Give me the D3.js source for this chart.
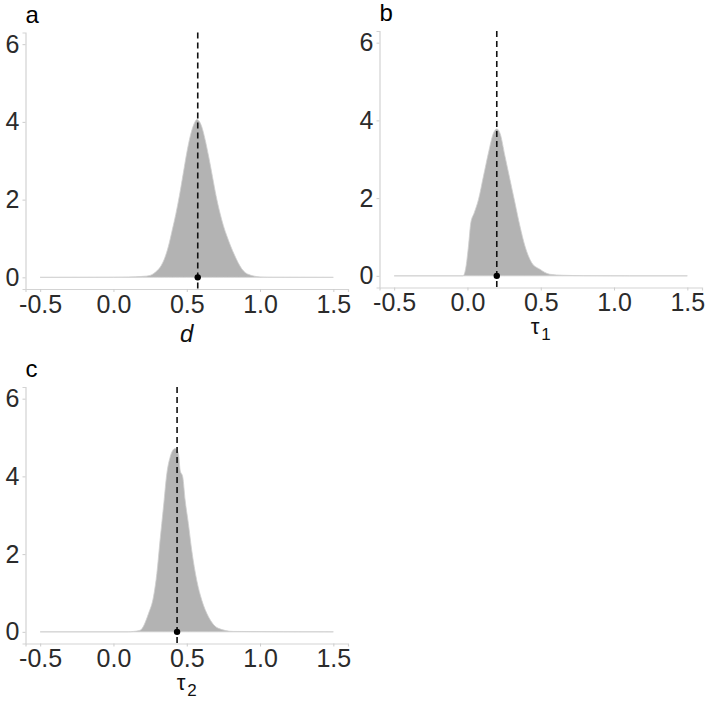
<!DOCTYPE html>
<html>
<head>
<meta charset="utf-8">
<script src="https://cdn.jsdelivr.net/npm/d3@7"></script>
<style>
	body { margin: 0; background: #fff; }
	text { font-family: "Liberation Sans", Arial, sans-serif; }
</style>
</head>
<body>
<svg id="chart" width="709" height="704"></svg>
<script>
// posterior densities
const xTicks = [-0.5, 0, 0.5, 1, 1.5];
const yTicks = [0, 2, 4, 6];
const panelLetters = ["a", "b", "c"];
const estimates = [0.575, 0.2, 0.434];

const dGrid = [-0.5, 0, 0.1, 0.2, 0.25, 0.275, 0.3, 0.325, 0.35, 0.375, 0.4, 0.425, 0.45, 0.475, 0.5, 0.525, 0.55, 0.57, 0.6, 0.625, 0.65, 0.675, 0.7, 0.725, 0.75, 0.775, 0.8, 0.825, 0.85, 0.875, 0.9, 0.925, 0.95, 0.975, 1.0, 1.05, 1.5];
const dDensity = [0, 0.003, 0.008, 0.025, 0.05, 0.1, 0.18, 0.3, 0.5, 0.8, 1.2, 1.62, 2.1, 2.65, 3.2, 3.65, 3.95, 4.06, 3.9, 3.55, 3.1, 2.6, 2.1, 1.68, 1.33, 1.05, 0.8, 0.58, 0.38, 0.22, 0.12, 0.07, 0.04, 0.02, 0.01, 0.003, 0];

const tau1Grid = [-0.5, -0.031, -0.022, -0.009, 0.007, 0.023, 0.046, 0.075, 0.109, 0.143, 0.177, 0.2, 0.222, 0.256, 0.29, 0.324, 0.358, 0.392, 0.438, 0.494, 0.562, 0.65, 0.789, 1.107, 1.5];
const tau1Density = [0, 0, 0.04, 0.26, 0.77, 1.37, 1.62, 1.96, 2.56, 3.16, 3.67, 3.78, 3.67, 3.08, 2.48, 1.88, 1.28, 0.77, 0.34, 0.17, 0.04, 0.015, 0.005, 0, 0];

const tau2Grid = [-0.5, 0.1, 0.136, 0.182, 0.239, 0.273, 0.296, 0.318, 0.341, 0.364, 0.387, 0.42, 0.443, 0.455, 0.473, 0.489, 0.511, 0.534, 0.568, 0.603, 0.648, 0.716, 0.818, 1.5];
const tau2Density = [0, 0, 0.01, 0.04, 0.47, 0.9, 1.5, 2.36, 3.21, 4.07, 4.5, 4.72, 4.59, 4.16, 3.98, 3.39, 2.79, 2.1, 1.33, 0.81, 0.39, 0.09, 0.01, 0];

const svg = d3.select("#chart");

const panels = [
	{ left: 25.5, top: 32.5, grid: dGrid, dens: dDensity, title: "d", italic: true, sub: null },
	{ left: 379.5, top: 31, grid: tau1Grid, dens: tau1Density, title: "τ", italic: false, sub: "1" },
	{ left: 25.5, top: 387, grid: tau2Grid, dens: tau2Density, title: "τ", italic: false, sub: "2" }
];
const size = { w: 322.5, h: 256.5 };

panels.forEach((p, i) => {
	let g = svg.append("g").attr("transform", `translate(${p.left}, ${p.top})`);

	let xScale = d3.scaleLinear().domain([-0.6, 1.6]).range([0, size.w]);
	let yScale = d3.scaleLinear().domain([-0.3, 6.3]).range([size.h, 0]);

	let pts = p.grid.map((x, k) => [x, p.dens[k]]);

	let area = d3
		.area()
		.x((d) => xScale(d[0]))
		.y0(yScale(0))
		.y1((d) => yScale(d[1]))
		.curve(d3.curveMonotoneX);

	g.append("path")
		.datum(pts)
		.attr("d", area)
		.attr("fill", "#b3b3b3")
		.attr("stroke", "#cfcfcf")
		.attr("stroke-width", 0.8);

	// axes
	let xAxis = d3.axisBottom(xScale).tickValues(xTicks).tickSize(3).tickPadding(3);
	let xg = g.append("g").attr("transform", `translate(0, ${size.h})`).call(xAxis);

	let yAxis = d3.axisLeft(yScale).tickValues(yTicks).tickFormat(d3.format("d")).tickSize(3).tickPadding(3);
	let yg = g.append("g").call(yAxis);

	[xg, yg].forEach((ax) => {
		ax.attr("font-size", null);
		ax.select(".domain").attr("stroke", "#d3d3d3").attr("stroke-width", 1.2);
		ax.selectAll(".tick line").attr("stroke", "#cccccc");
		ax.selectAll(".tick text")
			.attr("fill", "#2b2b2b")
			.attr("font-size", 25)
			.style("font-size", "25px")
			.style("font-family", '"Liberation Sans", Arial, sans-serif');
	});
	xg.selectAll(".tick text").text((d) => (d < 0 ? "-" : "") + d3.format(".1f")(Math.abs(d)));

	// estimate
	g.append("line")
		.attr("x1", xScale(estimates[i]))
		.attr("x2", xScale(estimates[i]))
		.attr("y1", 0)
		.attr("y2", size.h)
		.attr("stroke", "#111")
		.attr("stroke-width", 1.6)
		.attr("stroke-dasharray", "6,4");

	g.append("circle")
		.attr("cx", xScale(estimates[i]))
		.attr("cy", yScale(0))
		.attr("r", 3.2)
		.attr("fill", "#000");

	// axis title
	let t = g.append("text")
		.attr("x", xScale(0.5))
		.attr("text-anchor", "middle")
		.attr("fill", "#111");
	if (p.italic) {
		t.attr("y", size.h + 53)
			.style("font-size", "24px")
			.style("font-style", "italic")
			.text(p.title);
	} else {
		t.attr("y", size.h + 46.5).style("font-size", "22px");
		t.append("tspan").text(p.title);
		t.append("tspan")
			.attr("dy", 6)
			.attr("dx", 2)
			.style("font-size", "17px")
			.text(p.sub);
	}

	// panel letter
	svg.append("text")
		.attr("x", p.left)
		.attr("y", p.top - 10)
		.style("font-size", "24px")
		.attr("fill", "#000")
		.text(panelLetters[i]);
});
</script>
</body>
</html>
